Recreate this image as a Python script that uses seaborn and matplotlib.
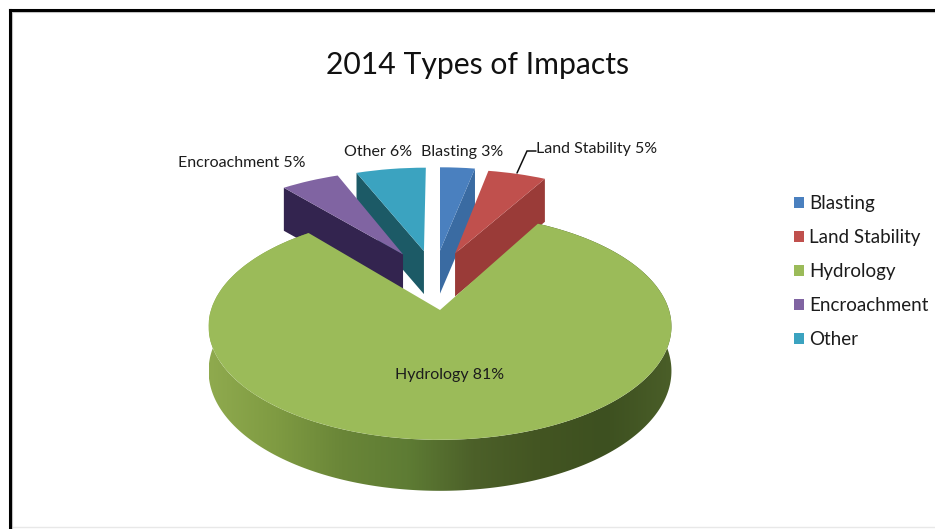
import numpy as np
import matplotlib
matplotlib.use("Agg")
import matplotlib.pyplot as plt
import seaborn as sns
from matplotlib.colors import LinearSegmentedColormap
from matplotlib.patches import Polygon
from matplotlib.transforms import Affine2D, Transform

# Chart data
categories = ["Blasting", "Land Stability", "Hydrology", "Encroachment", "Other"]
percentages = [3, 5, 81, 5, 6]

# Styling of the slices
top_colors = ["#4A80BF", "#C0504D", "#9BBB59", "#8064A2", "#3BA3C0"]
wall_colors = ["#3A6BA2", "#9A3B38", "#5F7A33", "#33244F", "#1C5A66"]
rim_colors = ["#8FAA4E", "#7F9B42", "#6A8638", "#5E7C34", "#4C6029", "#435522", "#3D5020", "#4A5E28"]

# Pull-out of each slice on the pie's own plane
slice_shift = [(0.0, 0.58), (0.071, 0.55), (0.0, 0.0), (-0.174, 0.54), (-0.076, 0.575)]
# Which straight edge of a slice shows a wall: 0 = none, 1 = theta1 edge, 2 = theta2 edge
wall_edge = [1, 1, 0, 2, 2]

# Projection of the tilted pie onto the figure, in pixels
CX, CY, RX, RY, TILT = 440.0, 310.0, 229.0, 111.0, 0.145
WALL_DEPTH = 43.0
RIM_DEPTH = 43.6
W, H = 935, 529


class TiltedPlane(Transform):
    input_dims = 2
    output_dims = 2
    is_separable = False
    has_inverse = False

    def transform_non_affine(self, values):
        values = np.asarray(values, dtype=float)
        u, v = values[:, 0], values[:, 1]
        w = 1 + TILT * v
        return np.column_stack([CX + RX * u / w, CY - RY * v / w])


plane = TiltedPlane()


def project(u, v):
    return plane.transform_non_affine(np.column_stack([u, v]))


sns.set_theme(style="white")
plt.rcParams["font.family"] = ["Lato", "DejaVu Sans"]

fig = plt.figure(figsize=(W / 100, H / 100), dpi=100, facecolor="white")
ax = fig.add_axes([0, 0, 1, 1])

wedges, _ = ax.pie(
    percentages,
    colors=sns.color_palette(top_colors),
    startangle=90,
    counterclock=False,
    radius=1,
    wedgeprops={"linewidth": 0},
)

# Back to a pixel canvas for the projected pie
ax.set_aspect("auto")
ax.set_xlim(0, W)
ax.set_ylim(H, 0)
ax.set_axis_off()

draw_order = {0: 3.0, 4: 3.2, 3: 3.4, 1: 3.6, 2: 4.0}
for i, wedge in enumerate(wedges):
    du, dv = slice_shift[i]
    wedge.set_transform(Affine2D().translate(du, dv) + plane + ax.transData)
    wedge.set_zorder(draw_order[i] + 0.1)

    if wall_edge[i]:
        angle = np.radians(wedge.theta1 if wall_edge[i] == 1 else wedge.theta2)
        inner, outer = project(
            np.array([du, du + np.cos(angle)]), np.array([dv, dv + np.sin(angle)])
        )
        quad = [inner, outer, outer + (0, WALL_DEPTH), inner + (0, WALL_DEPTH)]
        ax.add_patch(Polygon(quad, closed=True, facecolor=wall_colors[i],
                             edgecolor="none", zorder=draw_order[i]))

# Shaded front rim of the large slice; nearer parts of the rim look taller
big = wedges[2]
theta = np.radians(np.linspace(big.theta1, big.theta2, 400))
arc = project(np.cos(theta), np.sin(theta))
drop = RIM_DEPTH / (1 + TILT * np.sin(theta))
lower_arc = arc + np.column_stack([np.zeros_like(drop), drop])
rim_outline = np.vstack([arc, lower_arc[::-1]])
rim_patch = Polygon(rim_outline, closed=True, facecolor="none", edgecolor="none",
                    transform=ax.transData)
ax.add_patch(rim_patch)
rim_cmap = LinearSegmentedColormap.from_list("rim", rim_colors)
shade = ax.imshow(np.linspace(0, 1, 256)[None, :], cmap=rim_cmap, aspect="auto",
                  extent=(arc[:, 0].min(), arc[:, 0].max(), 500, 200), zorder=3.9)
shade.set_clip_path(rim_patch)
ax.set_xlim(0, W)
ax.set_ylim(H, 0)

# Title and slice labels
text_color = "#1C1C1C"
ax.text(477, 65, "2014 Types of Impacts", ha="center", va="center",
        fontsize=21.7, color="#111111", zorder=6)
label_spots = [(462, 152, "center"), (536, 149, "left"), (449.5, 375, "center"),
               (178, 163, "left"), (378, 152, "center")]
for (x, y, align), name, pct in zip(label_spots, categories, percentages):
    ax.text(x, y, f"{name} {pct}%", ha=align, va="center", fontsize=11.5,
            color=text_color, zorder=6)

# Leader line for the land stability label
ax.plot([536, 527, 517], [151, 151, 173], color="#111111", lw=1.1, zorder=6,
        solid_joinstyle="miter")

# Legend
ax.legend(wedges, categories, loc="upper left", bbox_to_anchor=(794 / W, 1 - 195 / H),
          bbox_transform=fig.transFigure, frameon=False, fontsize=13.5,
          labelcolor="#1C1C1C", handlelength=0.54, handleheight=0.54,
          handletextpad=0.25, labelspacing=0.91, borderaxespad=0, borderpad=0)

# Heavy frame along the top and left edges of the page, with its thin inner line
ax.plot([11.5, 11.5], [529, 11.5], color="#C8C8C8", lw=0.8, zorder=6.5)
ax.plot([11.5, 935], [11.5, 11.5], color="#C8C8C8", lw=0.8, zorder=6.5)
ax.plot([9.5, 9.5], [529, 9.5], color="black", lw=2.2, solid_capstyle="projecting", zorder=7)
ax.plot([9.5, 935], [9.5, 9.5], color="black", lw=2.2, solid_capstyle="projecting", zorder=7)
ax.plot([11, 935], [527, 527], color="#E8E8E8", lw=1, zorder=1)

fig.savefig("out.png", dpi=100, facecolor="white")
